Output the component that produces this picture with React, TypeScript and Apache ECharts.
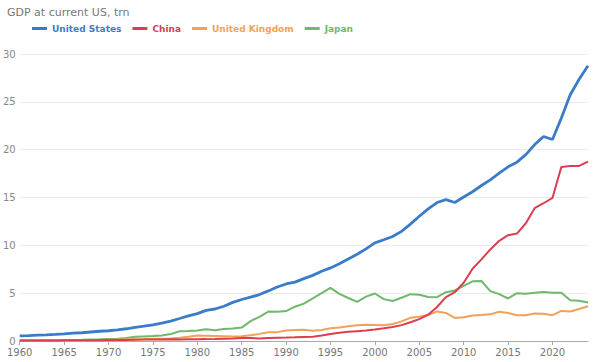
import React, { useEffect, useRef } from "react";
import * as echarts from "echarts";

const years: string[] = [];
for (let y = 1960; y <= 2024; y++) years.push(String(y));

const usGdp = [
  0.543, 0.563, 0.605, 0.638, 0.686, 0.744, 0.815, 0.862, 0.942, 1.019,
  1.073, 1.165, 1.279, 1.425, 1.545, 1.684, 1.873, 2.082, 2.352, 2.627,
  2.857, 3.207, 3.344, 3.634, 4.037, 4.339, 4.58, 4.855, 5.236, 5.642,
  5.963, 6.158, 6.52, 6.859, 7.287, 7.64, 8.073, 8.578, 9.063, 9.631,
  10.251, 10.582, 10.929, 11.457, 12.217, 13.039, 13.816, 14.474, 14.77, 14.478,
  15.049, 15.6, 16.254, 16.843, 17.551, 18.206, 18.695, 19.477, 20.533, 21.381,
  21.06, 23.315, 25.744, 27.361, 28.78,
];

const chinaGdp = [
  0.06, 0.05, 0.047, 0.051, 0.06, 0.07, 0.077, 0.073, 0.071, 0.08,
  0.093, 0.1, 0.114, 0.139, 0.144, 0.163, 0.154, 0.175, 0.15, 0.178,
  0.191, 0.196, 0.209, 0.234, 0.26, 0.309, 0.301, 0.273, 0.312, 0.348,
  0.361, 0.383, 0.427, 0.445, 0.564, 0.734, 0.864, 0.962, 1.029, 1.094,
  1.211, 1.339, 1.471, 1.66, 1.955, 2.286, 2.752, 3.55, 4.594, 5.102,
  6.087, 7.552, 8.532, 9.57, 10.476, 11.062, 11.233, 12.31, 13.895, 14.4,
  14.95, 18.2, 18.3, 18.3, 18.75,
];

const ukGdp = [
  0.073, 0.078, 0.081, 0.087, 0.094, 0.101, 0.107, 0.111, 0.105, 0.113,
  0.131, 0.148, 0.17, 0.193, 0.206, 0.241, 0.232, 0.263, 0.336, 0.438,
  0.565, 0.54, 0.515, 0.489, 0.462, 0.489, 0.601, 0.746, 0.91, 0.927,
  1.093, 1.143, 1.18, 1.061, 1.14, 1.335, 1.409, 1.553, 1.648, 1.687,
  1.666, 1.643, 1.785, 2.055, 2.422, 2.543, 2.709, 3.091, 2.929, 2.412,
  2.485, 2.664, 2.707, 2.785, 3.065, 2.928, 2.69, 2.681, 2.871, 2.851,
  2.697, 3.142, 3.089, 3.34, 3.64,
];

const japanGdp = [
  0.044, 0.054, 0.061, 0.07, 0.082, 0.091, 0.106, 0.124, 0.147, 0.172,
  0.213, 0.24, 0.318, 0.432, 0.48, 0.522, 0.586, 0.721, 1.014, 1.055,
  1.105, 1.218, 1.135, 1.243, 1.318, 1.399, 2.078, 2.532, 3.072, 3.054,
  3.133, 3.584, 3.909, 4.455, 4.999, 5.546, 4.923, 4.492, 4.098, 4.636,
  4.968, 4.375, 4.182, 4.519, 4.893, 4.831, 4.601, 4.579, 5.106, 5.289,
  5.759, 6.233, 6.272, 5.212, 4.897, 4.445, 5.004, 4.931, 5.041, 5.118,
  5.056, 5.035, 4.256, 4.213, 4.03,
];

const seriesNames = ["United States", "China", "United Kingdom", "Japan"];
const seriesColors = ["#3b7cc8", "#dc3e50", "#f2a158", "#70b86c"];
const seriesData = [usGdp, chinaGdp, ukGdp, japanGdp];
const yTicks = [0, 5, 10, 15, 20, 25, 30];

export default function App() {
  const ref = useRef<HTMLDivElement>(null);
  useEffect(() => {
    if (!ref.current) return;
    const chart = echarts.init(ref.current, undefined, { renderer: "svg" });
    const font = "'DejaVu Sans', sans-serif";
    chart.setOption({
      animation: false,
      backgroundColor: "#ffffff",
      title: {
        text: "GDP at current US, trn",
        left: 2,
        top: 2,
        textStyle: { fontSize: 11, fontWeight: "normal", color: "#777777", fontFamily: font },
      },
      legend: {
        left: 27,
        top: 19,
        icon: "rect",
        itemWidth: 15,
        itemHeight: 3,
        itemGap: 11,
        textStyle: { fontSize: 9, fontWeight: "bold", fontFamily: font },
        data: seriesNames.map((n, i) => ({
          name: n,
          textStyle: { color: seriesColors[i], fontWeight: "bold", fontSize: 9, fontFamily: font },
        })),
      },
      grid: { left: 18, right: 12, top: 54, bottom: 21, containLabel: false },
      xAxis: {
        type: "category",
        data: years,
        boundaryGap: false,
        axisLine: { lineStyle: { color: "#aaaaaa" } },
        axisTick: { interval: 4, length: 4, lineStyle: { color: "#aaaaaa" } },
        axisLabel: { interval: 4, color: "#777777", fontSize: 10, lineHeight: 10, fontFamily: font, margin: 6 },
        splitLine: { show: false },
      },
      yAxis: {
        type: "value",
        min: yTicks[0],
        max: yTicks[yTicks.length - 1],
        interval: 5,
        axisLine: { show: false },
        axisTick: { show: false },
        axisLabel: { color: "#888888", fontSize: 10, lineHeight: 10, fontFamily: font, margin: 4 },
        splitLine: { lineStyle: { color: "#ebebeb" } },
      },
      series: seriesNames.map((n, i) => ({
        name: n,
        type: "line",
        data: seriesData[i],
        symbol: "none",
        color: seriesColors[i],
        lineStyle: { width: i === 0 ? 2.8 : 2, color: seriesColors[i] },
        z: 10 - i,
      })),
    });
    return () => chart.dispose();
  }, []);
  return (
    <div
      ref={ref}
      style={{ position: "absolute", left: 0, top: 0, width: 600, height: 362 }}
    />
  );
}
